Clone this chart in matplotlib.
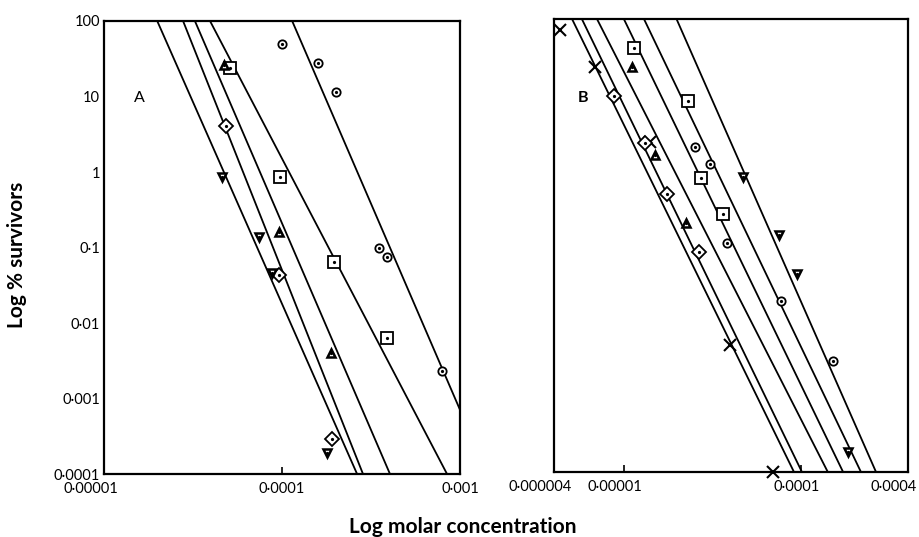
import matplotlib
matplotlib.use("Agg")
import matplotlib.pyplot as plt
from matplotlib.transforms import ScaledTranslation

plt.rcParams['font.family'] = ['Lato', 'DejaVu Sans']

# fitted lines: x where each line crosses 100 % and 0.0001 %
A_line_x0 = [1.99e-5, 2.78e-5, 3.24e-5, 3.94e-5, 1.14e-4]
A_line_x1 = [2.64e-4, 2.85e-4, 4.04e-4, 8.45e-4, 1.43e-3]
B_line_x0 = [5.06e-6, 5.75e-6, 7.0e-6, 9.93e-6, 1.29e-5, 1.97e-5]
B_line_x1 = [9.08e-5, 1.007e-4, 1.41e-4, 1.72e-4, 2.17e-4, 2.64e-4]
line_y = [100, 1e-4]

# panel A points
A_circle_x = [1.0e-4, 1.6e-4, 2.0e-4, 3.5e-4, 3.9e-4, 7.9e-4]
A_circle_y = [50, 28, 11.6, 0.098, 0.075, 0.0023]
A_square_x = [5.1e-5, 9.75e-5, 1.97e-4, 3.9e-4]
A_square_y = [23.6, 0.87, 0.065, 0.0063]
A_diamond_x = [4.83e-5, 9.67e-5, 1.9e-4]
A_diamond_y = [4.1, 0.043, 2.9e-4]
A_triup_x = [4.72e-5, 9.67e-5, 1.88e-4]
A_triup_y = [26, 0.16, 0.004]
A_tridown_x = [4.58e-5, 7.4e-5, 8.75e-5, 1.8e-4]
A_tridown_y = [0.87, 0.139, 0.0455, 1.9e-4]

# panel B points
B_cross_x = [4.33e-6, 6.8e-6, 1.39e-5, 3.94e-5, 6.93e-5]
B_cross_y = [71, 23.4, 2.37, 0.0048, 1e-4]
B_diamond_x = [8.77e-6, 1.31e-5, 1.75e-5, 2.63e-5]
B_diamond_y = [9.5, 2.25, 0.477, 0.081]
B_square_x = [1.14e-5, 2.3e-5, 2.7e-5, 3.61e-5]
B_square_y = [41.7, 8.2, 0.79, 0.259]
B_circle_x = [2.51e-5, 3.04e-5, 3.81e-5, 7.64e-5, 1.51e-4]
B_circle_y = [2.04, 1.19, 0.107, 0.0184, 0.00295]
B_triup_x = [1.11e-5, 1.49e-5, 2.22e-5]
B_triup_y = [23.4, 1.58, 0.2]
B_tridown_x = [4.69e-5, 7.46e-5, 9.4e-5, 1.84e-4]
B_tridown_y = [0.81, 0.138, 0.042, 1.86e-4]

y_ticks = [100, 10, 1, 0.1, 0.01, 0.001, 0.0001]
y_labels = ['100', '10', '1', '0·1', '0·01', '0·001', '0·0001']
A_xticks = [1e-5, 1e-4, 1e-3]
A_xlabels = ['0·00001', '0·0001', '0·001']
B_xticks = [4e-6, 1e-5, 1e-4, 4e-4]
B_xlabels = ['0·000004', '0·00001', '0·0001', '0·0004']

fig = plt.figure(figsize=(9.19, 5.37), dpi=100)
axA = fig.add_axes([0.1132, 0.1173, 0.3874, 0.8436])
axB = fig.add_axes([0.6028, 0.1210, 0.3852, 0.8436])


def dotted(ax, x, y, marker, ms, mew=1.3):
    ax.plot(x, y, ls='none', marker=marker, ms=ms, mfc='white', mec='black',
            mew=mew, clip_on=False, zorder=3)
    ax.plot(x, y, ls='none', marker='o', ms=1.3, color='black',
            clip_on=False, zorder=4)


for ax, x0s, x1s in [(axA, A_line_x0, A_line_x1), (axB, B_line_x0, B_line_x1)]:
    for a, b in zip(x0s, x1s):
        ax.plot([a, b], line_y, color='black', lw=1.3, zorder=2)

dotted(axA, A_circle_x, A_circle_y, 'o', 6)
dotted(axA, A_square_x, A_square_y, 's', 8)
dotted(axA, A_diamond_x, A_diamond_y, 'D', 7.5)
dotted(axA, A_triup_x, A_triup_y, '^', 5.5, 1.8)
dotted(axA, A_tridown_x, A_tridown_y, 'v', 5.5, 1.8)

axB.plot(B_cross_x, B_cross_y, ls='none', marker='x', ms=8, mew=1.5,
         color='black', clip_on=False, zorder=3)
dotted(axB, B_diamond_x, B_diamond_y, 'D', 7.5)
dotted(axB, B_square_x, B_square_y, 's', 8)
dotted(axB, B_circle_x, B_circle_y, 'o', 6)
dotted(axB, B_triup_x, B_triup_y, '^', 5.5, 1.8)
dotted(axB, B_tridown_x, B_tridown_y, 'v', 5.5, 1.8)

axA.set_xlim(1e-5, 1e-3)
axB.set_xlim(4e-6, 4e-4)
for ax in (axA, axB):
    ax.set_xscale('log')
    ax.set_yscale('log')
    ax.set_ylim(1e-4, 100)
    for sp in ax.spines.values():
        sp.set_linewidth(1.6)
    ax.tick_params(axis='x', direction='in', length=5, width=1.2, pad=6,
                   labelsize=10.5)

axA.set_xticks(A_xticks, A_xlabels)
axB.set_xticks(B_xticks, B_xlabels)
axA.minorticks_off()
axB.minorticks_off()
axA.set_yticks(y_ticks, y_labels)
axA.tick_params(axis='y', length=0, pad=3, labelsize=10.5)
axB.set_yticks([])

# the printed labels sit a little left of their ticks
for lab, dx in zip(axA.get_xticklabels(), [-13, 0, 0]):
    lab.set_transform(lab.get_transform() + ScaledTranslation(dx / 100, 0, fig.dpi_scale_trans))
for lab, dx in zip(axB.get_xticklabels(), [-14, -10, -5, -14]):
    lab.set_transform(lab.get_transform() + ScaledTranslation(dx / 100, 0, fig.dpi_scale_trans))

axA.text(0.10, 0.83, 'A', transform=axA.transAxes, fontsize=11.5,
         ha='center', va='center')
axB.text(0.083, 0.825, 'B', transform=axB.transAxes, fontsize=11.5,
         ha='center', va='center', fontweight='bold')

fig.text(0.019, 0.525, 'Log % survivors', rotation=90, ha='center',
         va='center', fontsize=15, fontweight='bold')
fig.text(0.504, 0.019, 'Log molar concentration', ha='center', va='center',
         fontsize=15, fontweight='bold')

fig.savefig('out.png', dpi=100)
